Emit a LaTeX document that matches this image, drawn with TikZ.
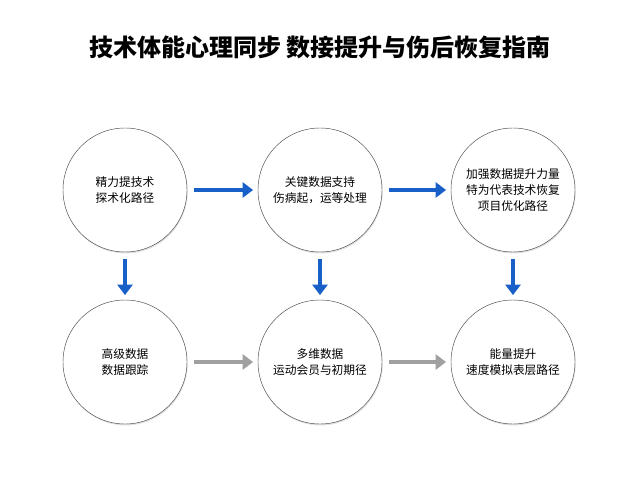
\documentclass[tikz,border=0pt]{standalone}
\usepackage{fontspec}
\newfontfamily\cjk{Noto Sans CJK SC}
\usetikzlibrary{arrows.meta,shadows}
\definecolor{flowblue}{RGB}{25,95,200}
\definecolor{flowgray}{RGB}{160,160,160}
\tikzset{
  stage/.style={circle, draw=black!70, thin, fill=white, minimum size=3.72cm,
    align=center, font=\cjk\fontsize{10}{14}\selectfont,
    drop shadow={shadow xshift=0.6pt, shadow yshift=-1.2pt, opacity=0.25}},
  go/.style={line width=4pt, draw=flowblue, shorten <=6pt, shorten >=4pt,
    -{Triangle[length=9pt,width=13pt]}},
  next/.style={go, draw=flowgray}
}
\begin{document}
\begin{tikzpicture}[x=0.03cm, y=-0.03cm]
  \useasboundingbox (0,0) rectangle (640,480);
  \node[font=\cjk\bfseries\fontsize{20.5}{22}\selectfont] (title) at (320,47) {技术体能心理同步 数接提升与伤后恢复指南};

  % top row
  \node[stage] (s1) at (125,190) {精力提技术\\探术化路径};
  \node[stage] (s2) at (320,190) {关键数据支持\\伤病起，运等处理};
  \node[stage] (s3) at (513,190) {加强数据提升力量\\特为代表技术恢复\\项目优化路径};

  % bottom row
  \node[stage] (s4) at (125,362) {高级数据\\数据跟踪};
  \node[stage] (s5) at (320,362) {多维数据\\运动会员与初期径};
  \node[stage] (s6) at (513,362) {能量提升\\速度模拟表层路径};

  \draw[go] (s1) -- (s2);
  \draw[go] (s2) -- (s3);
  \draw[go] (s1) -- (s4);
  \draw[go] (s2) -- (s5);
  \draw[go] (s3) -- (s6);
  \draw[next] (s4) -- (s5);
  \draw[next] (s5) -- (s6);
\end{tikzpicture}
\end{document}
